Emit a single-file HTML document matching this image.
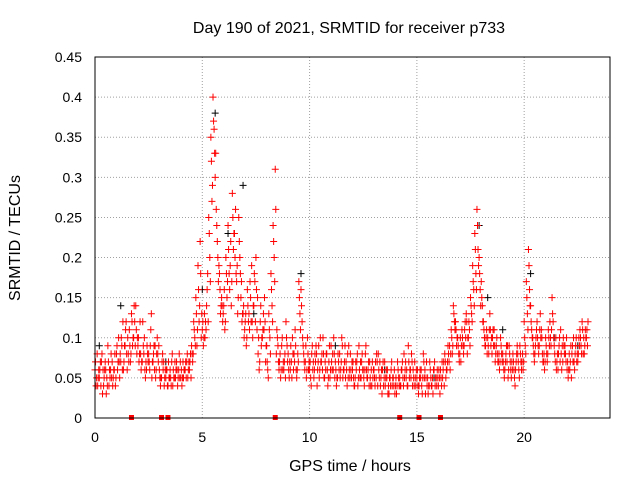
<!DOCTYPE html>
<html><head><meta charset="utf-8"><style>
body{margin:0;background:#fff}
svg{display:block;font-family:"Liberation Sans",sans-serif}
</style></head><body>
<svg id="c" width="640" height="480">
<text x="349" y="33" font-size="16" text-anchor="middle">Day 190 of 2021, SRMTID for receiver p733</text>
<text x="350" y="471" font-size="16" text-anchor="middle">GPS time / hours</text>
<text transform="translate(20,238) rotate(-90)" font-size="16" text-anchor="middle">SRMTID / TECUs</text>
<g id="grid"></g><g id="marks"></g>
<rect x="95" y="57" width="515" height="361" fill="none" stroke="#000"/>
</svg>
<script>
const xTicks=[0,5,10,15,20];
const yTicks=[0,0.05,0.1,0.15,0.2,0.25,0.3,0.35,0.4,0.45];
const yTickLabels=["0","0.05","0.1","0.15","0.2","0.25","0.3","0.35","0.4","0.45"];
const redA=[.06,.08,.05,.07,.04,.06,.09,.05,.07,.06,.08,.10,.07,.12,.09,.06,.11,.13,.10,.14,.09,.12,.07,.10,.06,.08,.11,.07,.09,.10,.06,.05,.07,.05,.04,.06,.08,.05,.07,.06,.05,.07,.06,.08,.06,.09,.12,.15,.19,.22,.11,.13,.14,.25,.35,.40,.30,.22,.18,.15,.14,.20,.24,.19,.28,.23,.17,.25,.15,.13,.12,.16,.11,.19,.14,.20,.08,.12,.10,.15,.09,.13,.18,.24,.31,.10,.07,.09,.06,.12,.08,.06,.10,.07,.05,.17,.16,.09,.07,.10,.06,.08,.05,.09,.07,.10,.06,.05,.08,.07,.09,.06,.07,.05,.08,.10,.06,.07,.05,.08,.06,.04,.07,.09,.05,.06,.08,.05,.07,.04,.06,.05,.08,.04,.06,.07,.05,.03,.06,.05,.04,.07,.05,.06,.08,.05,.09,.06,.04,.07,.05,.04,.06,.08,.03,.05,.07,.04,.06,.05,.04,.06,.05,.08,.06,.07,.11,.14,.12,.10,.08,.11,.09,.13,.10,.15,.19,.23,.26,.20,.17,.12,.09,.10,.13,.08,.11,.09,.07,.10,.08,.06,.07,.09,.05,.07,.06,.08,.09,.07,.12,.17,.21,.14,.10,.08,.12,.09,.11,.07,.10,.08,.12,.15,.09,.06,.08,.11,.07,.09,.06,.08,.05,.10,.09,.07,.11,.12,.08,.10];
const redB=[.04,.05,.07,.03,.06,.05,.04,.08,.05,.04,.06,.05,.09,.07,.12,.08,.07,.09,.12,.08,.07,.06,.09,.05,.08,.06,.05,.09,.06,.07,.04,.08,.05,.06,.05,.04,.06,.05,.04,.05,.04,.06,.05,.06,.08,.07,.10,.09,.12,.10,.09,.12,.18,.20,.27,.36,.26,.17,.13,.12,.11,.15,.18,.14,.21,.26,.13,.20,.12,.10,.09,.12,.15,.10,.17,.11,.06,.09,.13,.07,.06,.10,.14,.20,.08,.07,.05,.06,.08,.09,.05,.07,.06,.09,.08,.13,.12,.07,.05,.06,.05,.06,.08,.04,.05,.07,.08,.06,.04,.05,.06,.08,.04,.07,.06,.05,.09,.04,.06,.05,.05,.07,.04,.05,.08,.04,.06,.07,.04,.05,.04,.07,.05,.06,.04,.05,.03,.05,.04,.06,.03,.05,.04,.05,.06,.04,.05,.08,.05,.04,.04,.06,.03,.05,.07,.04,.05,.03,.04,.06,.05,.04,.07,.05,.09,.06,.08,.12,.09,.08,.07,.09,.12,.08,.11,.13,.16,.18,.21,.16,.14,.10,.11,.08,.09,.11,.07,.08,.06,.08,.06,.08,.05,.07,.06,.05,.08,.06,.07,.06,.09,.13,.16,.11,.08,.10,.09,.13,.08,.06,.08,.10,.09,.12,.07,.08,.10,.06,.09,.07,.05,.07,.09,.06,.07,.10,.09,.08,.11,.09];
const redC=[.07,.04,.06,.08,.05,.03,.07,.06,.04,.08,.09,.07,.10,.06,.11,.10,.09,.12,.14,.11,.10,.08,.12,.06,.09,.07,.13,.08,.05,.08,.05,.07,.04,.06,.07,.05,.04,.07,.06,.08,.06,.05,.07,.05,.07,.08,.11,.13,.16,.18,.12,.10,.16,.23,.32,.37,.33,.20,.16,.14,.16,.18,.21,.22,.25,.20,.19,.22,.17,.14,.13,.14,.17,.12,.18,.16,.10,.14,.11,.12,.07,.11,.16,.22,.26,.09,.08,.10,.07,.10,.06,.09,.08,.11,.06,.15,.14,.08,.09,.08,.07,.09,.06,.08,.09,.07,.10,.07,.06,.09,.07,.10,.06,.08,.05,.09,.07,.06,.09,.06,.07,.05,.08,.06,.07,.05,.09,.06,.05,.07,.05,.08,.06,.05,.07,.04,.06,.05,.07,.04,.05,.06,.04,.07,.05,.06,.07,.05,.06,.05,.06,.05,.04,.07,.05,.03,.06,.05,.07,.04,.06,.05,.06,.07,.07,.09,.10,.13,.11,.09,.10,.10,.11,.12,.12,.14,.17,.21,.24,.18,.15,.11,.10,.09,.11,.10,.09,.10,.08,.09,.07,.07,.09,.08,.07,.06,.07,.07,.08,.08,.10,.15,.19,.12,.09,.09,.10,.11,.10,.08,.09,.11,.10,.13,.08,.07,.09,.08,.10,.08,.07,.06,.08,.07,.10,.08,.10,.11,.09,.11];
const redD=[.05,.06,.04,.06,.07,.04,.06,.05,.06,.05,.07,.08,.06,.09,.08,.07,.08,.10,.09,.10,.08,.07,.08,.07,.07,.09,.07,.06,.08,.09,.05,.06,.06,.04,.05,.07,.05,.06,.05,.07,.05,.06,.07,.07,.05,.08,.09,.11,.14,.13,.10,.11,.12,.17,.29,.33,.24,.19,.14,.13,.12,.17,.16,.17,.23,.18,.15,.18,.13,.11,.10,.13,.12,.14,.12,.15,.07,.10,.11,.09,.05,.08,.12,.17,.11,.06,.06,.07,.05,.07,.07,.05,.08,.06,.07,.11,.10,.06,.06,.07,.04,.07,.07,.06,.06,.08,.05,.08,.05,.06,.08,.05,.05,.06,.07,.06,.05,.08,.05,.07,.04,.06,.05,.07,.06,.06,.05,.04,.06,.06,.07,.04,.07,.03,.05,.06,.04,.04,.05,.03,.04,.04,.06,.04,.07,.04,.06,.07,.04,.06,.03,.05,.05,.06,.04,.04,.04,.06,.05,.05,.03,.07,.04,.06,.08,.08,.09,.11,.10,.07,.09,.08,.10,.10,.09,.12,.14,.16,.19,.14,.12,.09,.08,.11,.10,.09,.08,.07,.07,.07,.05,.09,.06,.06,.08,.04,.09,.05,.06,.07,.08,.11,.14,.10,.07,.11,.08,.10,.07,.07,.07,.09,.11,.10,.10,.06,.07,.09,.08,.10,.06,.09,.07,.08,.08,.09,.08,.10,.10,.12];
const blackT=[0.2,1.2,3.3,5.0,5.6,6.2,6.9,7.4,9.6,11.2,13.5,15.8,17.9,18.3,19.0,20.3,21.4,22.5];
const blackV=[0.09,0.14,0.07,0.16,0.38,0.23,0.29,0.13,0.18,0.09,0.06,0.05,0.24,0.15,0.11,0.18,0.10,0.09];
const gapT=[1.7,3.1,3.4,8.4,14.2,15.1,16.1];
const X=t=>95+t*515/24, Y=v=>418-v*361/0.45;
const NS="http://www.w3.org/2000/svg";
const grid=document.getElementById('grid'), marks=document.getElementById('marks');
function mk(tag,at,p){const e=document.createElementNS(NS,tag);for(const k in at)e.setAttribute(k,at[k]);p.appendChild(e);return e;}
xTicks.forEach(t=>{
 const g=mk('line',{x1:X(t),x2:X(t),y1:57,y2:418,stroke:'#a0a0a0','stroke-dasharray':'1,2'},grid);
 
 
 const l=mk('text',{x:X(t),y:442,'font-size':14,'text-anchor':'middle'},grid);l.textContent=t;
 
 
});
yTicks.forEach((v,i)=>{
 const g=mk('line',{x1:95,x2:610,y1:Y(v),y2:Y(v),stroke:'#a0a0a0','stroke-dasharray':'1,2'},grid);
 
 
 const l=mk('text',{x:82,y:Y(v)+5,'font-size':14,'text-anchor':'end'},grid);l.textContent=yTickLabels[i];
 
 
});
function plus(t,v,col){
 const x=X(t),y=Y(v);
 const p=mk('path',{d:`M${x-3.5},${y}h7M${x},${y-3.5}v7`,stroke:col,'stroke-width':1,fill:'none'},marks);
 
 
}
blackT.forEach((t,i)=>plus(t,blackV[i],'#000'));
redA.forEach((v,i)=>plus(i*0.1,v,'#ff0000'));
redB.forEach((v,i)=>plus(i*0.1+0.05,v,'#ff0000'));
redC.forEach((v,i)=>plus(i*0.1+0.025,v,'#ff0000'));
redD.forEach((v,i)=>plus(i*0.1+0.075,v,'#ff0000'));
gapT.forEach(t=>{
 const r=mk('rect',{x:X(t)-2.5,y:415,width:5,height:5,fill:'#ff0000'},marks);
 
 
});
</script>
</body></html>
